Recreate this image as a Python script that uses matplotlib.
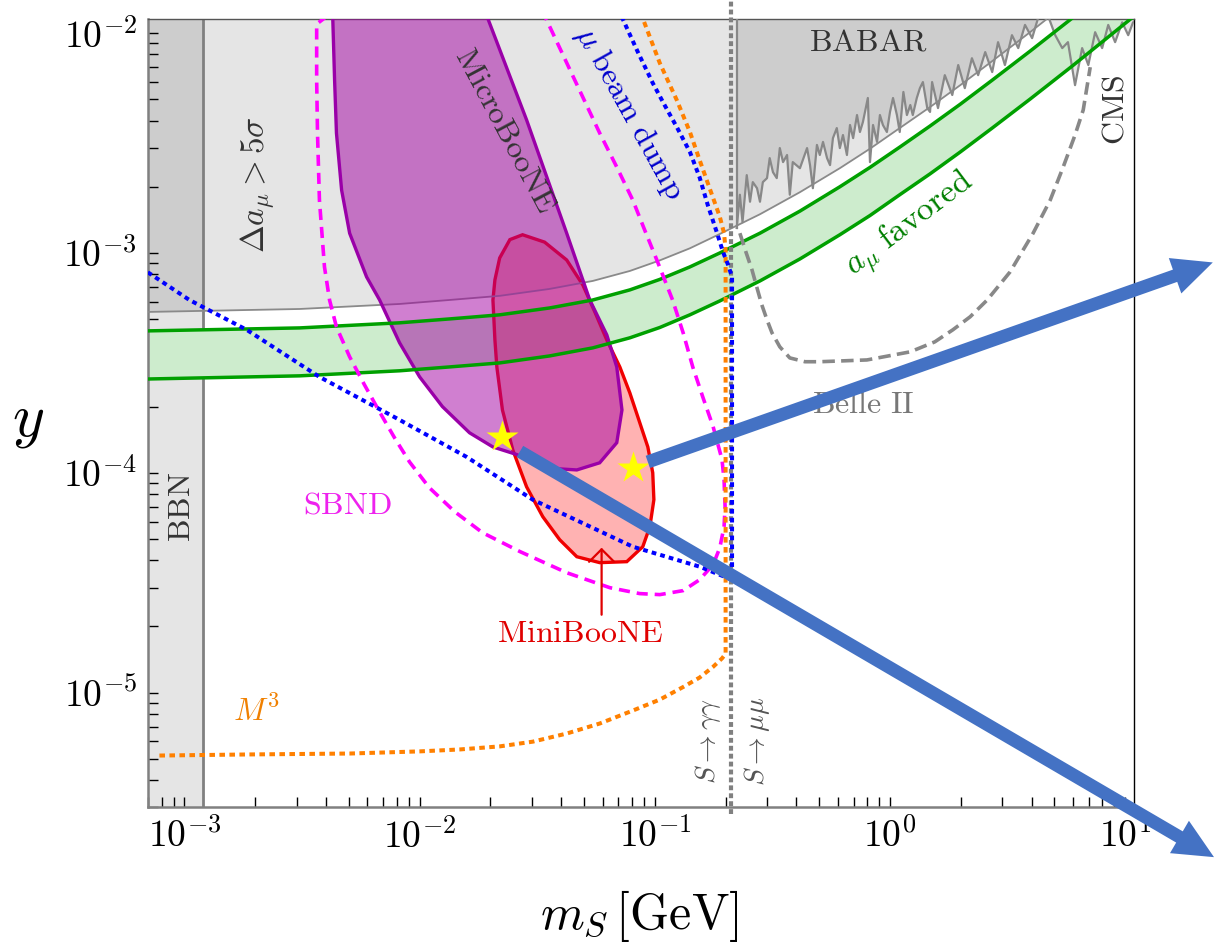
import numpy as np
import matplotlib
matplotlib.use("Agg")
import matplotlib.pyplot as plt
from matplotlib.ticker import LogLocator, NullFormatter

plt.rcParams["mathtext.fontset"] = "cm"
plt.rcParams["font.family"] = ["DejaVu Serif"]
plt.rcParams["lines.scale_dashes"] = False

# --- exclusion / sensitivity curves, m_S [GeV] vs coupling y ---
bbn_x = 1.205e-3          # BBN bound
thr_x = 0.211             # 2 m_mu threshold
babar_edge_x = 0.223

band_x = [6.97e-4, 3.09e-3, 8.22e-3, 1.34e-2, 2.19e-2, 3.57e-2, 5.45e-2, 7.83e-2, 0.105, 0.141, 0.189,
          0.280, 0.414, 0.612, 0.822, 1.10, 1.48, 1.99, 2.72, 3.94, 5.95, 11.5]
green_hi = [4.42e-4, 4.56e-4, 4.81e-4, 5.01e-4, 5.23e-4, 5.62e-4, 6.11e-4, 6.79e-4, 7.58e-4, 8.64e-4, 1.0e-3,
            1.23e-3, 1.55e-3, 2.0e-3, 2.45e-3, 3.03e-3, 3.78e-3, 4.75e-3, 6.11e-3, 8.28e-3, 1.17e-2, 2.06e-2]
green_lo = [2.67e-4, 2.76e-4, 2.91e-4, 3.03e-4, 3.16e-4, 3.40e-4, 3.70e-4, 4.11e-4, 4.58e-4, 5.23e-4, 6.05e-4,
            7.46e-4, 9.39e-4, 1.21e-3, 1.48e-3, 1.84e-3, 2.29e-3, 2.88e-3, 3.70e-3, 5.01e-3, 7.08e-3, 1.25e-2]
gm2_y = [5.39e-4, 5.56e-4, 5.86e-4, 6.11e-4, 6.38e-4, 6.86e-4, 7.46e-4, 8.28e-4, 9.25e-4, 1.05e-3, 1.22e-3,
         1.50e-3, 1.89e-3, 2.43e-3, 2.98e-3, 3.70e-3, 4.61e-3, 5.80e-3, 7.46e-3, 1.01e-2, 1.43e-2, 3.0e-2]

babar_x = [0.223, 0.230, 0.236, 0.246, 0.254, 0.261, 0.272, 0.280, 0.288, 0.300,
           0.308, 0.318, 0.330, 0.340, 0.351, 0.365, 0.375, 0.386, 0.414, 0.444,
           0.457, 0.470, 0.489, 0.503, 0.519, 0.540, 0.556, 0.572, 0.594, 0.612,
           0.631, 0.656, 0.676, 0.697, 0.724, 0.745, 0.767, 0.805, 0.822, 0.847,
           0.881, 0.906, 0.933, 0.970, 1.00, 1.03, 1.07, 1.10, 1.14, 1.18,
           1.22, 1.25, 1.30, 1.34, 1.38, 1.44, 1.48, 1.51, 1.60, 1.71,
           1.84, 1.95, 2.08, 2.23, 2.37, 2.54, 2.72, 2.88, 3.08, 3.30,
           3.51, 3.75, 4.02, 4.26, 4.57, 5.04, 5.40, 5.71, 6.12, 6.56,
           6.97, 7.45, 7.98, 8.47, 9.06, 9.71, 10.3, 10.8, 11.5]
babar_y = [1.30e-3, 1.84e-3, 1.38e-3, 2.26e-3, 1.71e-3, 2.10e-3, 1.97e-3, 1.71e-3, 2.10e-3, 2.19e-3,
           2.70e-3, 2.33e-3, 2.19e-3, 3.00e-3, 2.59e-3, 2.79e-3, 1.84e-3, 2.59e-3, 2.43e-3, 3.00e-3,
           2.51e-3, 1.97e-3, 3.10e-3, 2.79e-3, 3.20e-3, 2.70e-3, 2.51e-3, 3.33e-3, 3.70e-3, 3.00e-3,
           3.44e-3, 2.79e-3, 3.82e-3, 3.33e-3, 4.24e-3, 3.55e-3, 3.94e-3, 5.07e-3, 2.59e-3, 3.82e-3,
           3.20e-3, 4.24e-3, 3.82e-3, 3.55e-3, 4.38e-3, 5.07e-3, 4.24e-3, 3.55e-3, 5.40e-3, 4.24e-3,
           4.71e-3, 4.24e-3, 5.07e-3, 5.62e-3, 5.99e-3, 4.56e-3, 4.38e-3, 5.99e-3, 4.56e-3, 6.44e-3,
           5.23e-3, 7.16e-3, 5.62e-3, 7.69e-3, 6.44e-3, 8.20e-3, 6.65e-3, 9.10e-3, 7.16e-3, 9.79e-3,
           8.55e-3, 1.09e-2, 9.49e-3, 1.17e-2, 1.30e-2, 9.79e-3, 8.55e-3, 9.10e-3, 5.80e-3, 8.55e-3,
           7.16e-3, 1.01e-2, 8.55e-3, 1.09e-2, 9.10e-3, 1.12e-2, 9.79e-3, 1.12e-2, 1.15e-2]

micro_x = [4.27e-3, 4.35e-3, 4.43e-3, 4.66e-3, 5.04e-3, 5.95e-3, 6.76e-3, 8.22e-3, 1.0e-2, 1.25e-2,
           1.63e-2, 2.05e-2, 2.59e-2, 3.47e-2, 4.66e-2, 5.83e-2, 6.89e-2, 7.25e-2, 6.89e-2, 6.25e-2,
           5.29e-2, 4.22e-2, 2.85e-2, 1.93e-2]
micro_y = [1.2e-2, 6.11e-3, 3.51e-3, 1.93e-3, 1.23e-3, 7.78e-4, 6.11e-4, 3.90e-4, 2.73e-4, 2.0e-4,
           1.52e-4, 1.31e-4, 1.21e-4, 1.05e-4, 1.03e-4, 1.11e-4, 1.37e-4, 1.93e-4, 3.03e-4, 4.24e-4,
           6.11e-4, 1.23e-3, 4.03e-3, 1.2e-2]

mini_x = [2.74e-2, 2.42e-2, 2.19e-2, 2.09e-2, 2.05e-2, 2.09e-2, 2.13e-2, 2.25e-2, 2.49e-2, 2.85e-2,
          3.34e-2, 3.94e-2, 4.66e-2, 5.83e-2, 7.60e-2, 8.89e-2, 9.53e-2, 9.91e-2, 9.80e-2, 9.34e-2,
          8.63e-2, 7.83e-2, 7.10e-2, 6.25e-2, 5.56e-2, 4.94e-2, 4.22e-2, 3.40e-2]
mini_y = [1.21e-3, 1.15e-3, 9.49e-4, 7.54e-4, 6.11e-4, 4.02e-4, 3.03e-4, 1.93e-4, 1.27e-4, 8.63e-5,
          6.31e-5, 4.96e-5, 4.15e-5, 3.90e-5, 3.94e-5, 4.61e-5, 5.69e-5, 7.54e-5, 1.0e-4, 1.31e-4,
          1.69e-4, 2.31e-4, 3.03e-4, 4.02e-4, 5.39e-4, 7.16e-4, 9.29e-4, 1.12e-3]

sbnd_x = [4.06e-3, 3.65e-3, 3.65e-3, 3.68e-3, 3.75e-3, 3.94e-3, 4.14e-3, 4.43e-3, 5.04e-3, 5.83e-3,
          6.76e-3, 7.83e-3, 9.06e-3, 1.10e-2, 1.41e-2, 1.85e-2, 2.67e-2, 4.22e-2, 6.44e-2, 8.63e-2,
          0.105, 0.132, 0.155, 0.177, 0.189, 0.197, 0.199, 0.197, 0.193, 0.177,
          0.160, 0.145, 0.132, 0.119, 0.102, 9.06e-2, 8.06e-2, 6.89e-2, 5.83e-2, 4.57e-2, 3.40e-2]
sbnd_y = [1.2e-2, 1.10e-2, 6.11e-3, 3.51e-3, 1.74e-3, 8.64e-4, 6.11e-4, 4.61e-4, 3.37e-4, 2.51e-4,
          1.89e-4, 1.44e-4, 1.12e-4, 8.55e-5, 6.65e-5, 5.34e-5, 4.38e-5, 3.51e-5, 3.0e-5, 2.82e-5,
          2.79e-5, 2.91e-5, 3.26e-5, 3.82e-5, 4.56e-5, 5.69e-5, 7.0e-5, 9.29e-5, 1.15e-4, 1.62e-4,
          2.21e-4, 3.03e-4, 4.33e-4, 6.11e-4, 9.29e-4, 1.27e-3, 1.74e-3, 2.46e-3, 3.51e-3, 6.11e-3, 1.2e-2]

dump_x = [6.5e-4, 1.05e-3, 1.84e-3, 3.75e-3, 8.22e-3, 1.585e-2, 3.03e-2, 8.06e-2, 0.155, 0.213,
          0.213, 0.205, 0.195, 0.184, 0.168, 0.155, 0.141, 0.124, 0.110, 9.80e-2, 8.47e-2, 7.2e-2]
dump_y = [8.6e-4, 6.11e-4, 4.47e-4, 2.73e-4, 1.74e-4, 1.18e-4, 7.54e-5, 4.61e-5, 3.74e-5, 3.26e-5,
          7.78e-4, 8.82e-4, 1.01e-3, 1.23e-3, 1.65e-3, 2.21e-3, 2.88e-3, 3.74e-3, 4.71e-3, 5.93e-3, 8.2e-3, 1.2e-2]

m3_x = [7.83e-4, 1.89e-3, 5.04e-3, 1.0e-2, 1.48e-2, 2.19e-2, 3.03e-2, 4.22e-2, 5.83e-2, 8.06e-2,
        0.105, 0.132, 0.155, 0.177, 0.193, 0.2, 0.2, 0.197, 0.189, 0.171,
        0.155, 0.141, 0.124, 0.105, 8.8e-2]
m3_y = [5.17e-6, 5.23e-6, 5.28e-6, 5.40e-6, 5.51e-6, 5.69e-6, 5.98e-6, 6.51e-6, 7.23e-6, 8.28e-6,
        9.29e-6, 1.06e-5, 1.17e-5, 1.31e-5, 1.43e-5, 1.50e-5, 1.03e-3, 1.23e-3, 1.46e-3, 1.97e-3,
        2.65e-3, 3.55e-3, 4.96e-3, 7.31e-3, 1.2e-2]

belle_x = [0.230, 0.244, 0.259, 0.272, 0.285, 0.300, 0.315, 0.340, 0.375, 0.435, 0.503, 0.798, 1.22,
           1.55, 1.85, 2.19, 2.59, 3.24, 4.06, 4.80, 5.45, 6.12, 6.63, 7.10]
belle_y = [1.23e-3, 1.01e-3, 8.37e-4, 6.93e-4, 5.81e-4, 4.96e-4, 4.33e-4, 3.74e-4, 3.33e-4, 3.20e-4,
           3.20e-4, 3.26e-4, 3.55e-4, 3.94e-4, 4.47e-4, 5.12e-4, 6.11e-4, 8.2e-4, 1.23e-3, 1.74e-3,
           2.46e-3, 3.44e-3, 4.47e-3, 7.0e-3]

star_x = [2.25e-2, 8.06e-2]
star_y = [1.46e-4, 1.05e-4]

x_ticks = [1e-3, 1e-2, 1e-1, 1, 10]
x_tick_labels = [r"$10^{-3}$", r"$10^{-2}$", r"$10^{-1}$", r"$10^{0}$", r"$10^{1}$"]
y_ticks = [1e-5, 1e-4, 1e-3, 1e-2]
y_tick_labels = [r"$10^{-5}$", r"$10^{-4}$", r"$10^{-3}$", r"$10^{-2}$"]

XMIN, XMAX = 7e-4, 10.9
YMIN, YMAX = 3e-6, 1.16e-2


fig = plt.figure(figsize=(12.14, 9.44), dpi=100)
ax = fig.add_axes([0.1219, 0.1446, 0.8122, 0.8353])
ax.set_xscale("log")
ax.set_yscale("log")

# gray excluded regions
shade = dict(facecolor="black", alpha=0.1, linewidth=0)
ax.fill_between([XMIN * 0.9, bbn_x], YMIN * 0.9, 1, zorder=1, **shade)
ax.fill_between(band_x, gm2_y, 1, zorder=1, **shade)
ax.fill_between(babar_x, babar_y, 1, zorder=1, **shade)
ax.axvline(bbn_x, color="#808080", lw=2.0, zorder=2)

# a_mu favoured band
ax.fill_between(band_x, green_lo, green_hi, color="#cdeccd", lw=0, zorder=2)

# MiniBooNE and MicroBooNE regions
ax.fill(mini_x, mini_y, facecolor=(1, 0, 0, 0.3), edgecolor="#f00000", lw=2.4, zorder=3)
ax.plot(band_x, gm2_y, color="#8a8a8a", lw=1.3, zorder=3.5)
ax.fill(micro_x, micro_y, facecolor=(0.64, 0, 0.64, 0.5), edgecolor="#9a00a8", lw=2.4, zorder=4)

ax.plot(band_x, green_hi, color="#00a000", lw=2.5, zorder=6)
ax.plot(band_x, green_lo, color="#00a000", lw=2.5, zorder=6)

ax.plot(babar_x, babar_y, color="#888888", lw=1.6, zorder=5)
ax.plot([babar_edge_x, babar_edge_x], [babar_y[0], 0.02], color="#888888", lw=1.6, zorder=5)

ax.plot(sbnd_x, sbnd_y, color="#ff00ff", lw=2.6, dashes=(8, 5), zorder=7)
ax.plot(belle_x, belle_y, color="#888888", lw=2.6, dashes=(9, 4.5), zorder=7)
ax.plot(m3_x, m3_y, color="#ff8000", lw=2.9, dashes=(4.0, 3.2), zorder=7)
ax.plot(dump_x, dump_y, color="#0000ff", lw=2.9, dashes=(3.4, 3.0), zorder=7.5)
ax.plot([thr_x, thr_x], [YMIN * 0.93, 0.02], color="#808080", lw=3.0, dashes=(3.5, 2.2),
        zorder=7.2, clip_on=False)

ax.plot(star_x, star_y, ls="none", marker="*", ms=24, color="#ffff00", mec="none", zorder=9)

# labels inside the plot
def label(x, y, s, color="#333333", size=23, rot=0):
    ax.text(x, y, s, color=color, fontsize=size, rotation=rot, ha="center", va="center",
            rotation_mode="anchor", zorder=8)

label(2.05e-3, 2.04e-3, r"$\Delta a_\mu > 5\sigma$", rot=90, size=24)
label(2.3e-2, 3.6e-3, r"$\mathrm{MicroBooNE}$", rot=-62)
label(7.8e-2, 4.3e-3, r"$\mu\ \mathrm{beam\ dump}$", color="#0000cc", rot=-61)
label(0.805, 9.1e-3, r"$\mathrm{BABAR}$")
label(9.06, 4.47e-3, r"$\mathrm{CMS}$", rot=90)
label(1.22, 1.34e-3, r"$a_\mu\ \mathrm{favored}$", color="#007f00", rot=37, size=24)
label(0.767, 2.04e-4, r"$\mathrm{Belle\ II}$", color="#777777")
label(9.7e-4, 7.0e-5, r"$\mathrm{BBN}$", rot=90)
label(4.94e-3, 7.16e-5, r"$\mathrm{SBND}$", color="#ee22ee")
label(4.8e-2, 1.85e-5, r"$\mathrm{MiniBooNE}$", color="#e00000")
label(2.02e-3, 8.2e-6, r"$M^3$", color="#f08000")
label(0.168, 6.0e-6, r"$S\rightarrow\gamma\gamma$", color="#555555", rot=90, size=20)
label(0.272, 6.0e-6, r"$S\rightarrow\mu\mu$", color="#555555", rot=90, size=20)

ax.annotate("", xy=(5.94e-2, 4.56e-5), xytext=(5.94e-2, 2.26e-5),
            arrowprops=dict(arrowstyle="->,head_length=0.45,head_width=0.45", color="#e00000",
                            lw=1.6, shrinkA=0, shrinkB=0, mutation_scale=20), zorder=8)

# blue pointer arrows running off the right side
arrow_kw = dict(arrowstyle="simple,tail_width=0.26,head_width=0.75,head_length=0.8",
                mutation_scale=36, color="#4472c4", lw=0, shrinkA=0, shrinkB=0)
ax.annotate("", xy=(1.0, 0.092), xycoords="figure fraction", xytext=(2.67e-2, 1.25e-4),
            textcoords="data", arrowprops=arrow_kw, annotation_clip=False, zorder=10)
ax.annotate("", xy=(0.999, 0.722), xycoords="figure fraction", xytext=(9.34e-2, 1.12e-4),
            textcoords="data", arrowprops=arrow_kw, annotation_clip=False, zorder=10)

# axes styling
ax.set_xlim(XMIN, XMAX)
ax.set_ylim(YMIN, YMAX)
ax.set_xticks(x_ticks)
ax.set_xticklabels(x_tick_labels)
ax.set_yticks(y_ticks)
ax.set_yticklabels(y_tick_labels)
ax.xaxis.set_minor_locator(LogLocator(base=10, subs=np.arange(2, 10)))
ax.yaxis.set_minor_locator(LogLocator(base=10, subs=np.arange(2, 10)))
ax.xaxis.set_minor_formatter(NullFormatter())
ax.yaxis.set_minor_formatter(NullFormatter())
ax.tick_params(which="both", direction="in", length=7, width=1.0, color="black",
               top=False, right=False, labelsize=27, pad=8)

for side in ["left", "bottom"]:
    ax.spines[side].set_color("#808080")
    ax.spines[side].set_linewidth(1.8)
ax.spines["top"].set_color("#555555")
ax.spines["top"].set_linewidth(1.0)
ax.spines["right"].set_color("black")
ax.spines["right"].set_linewidth(1.0)

fig.text(0.527, 0.030, r"$m_S\,[\mathrm{GeV}]$", fontsize=36, ha="center", va="center")
fig.text(0.023, 0.555, r"$y$", fontsize=44, ha="center", va="center")

fig.savefig("out.png", dpi=100)
